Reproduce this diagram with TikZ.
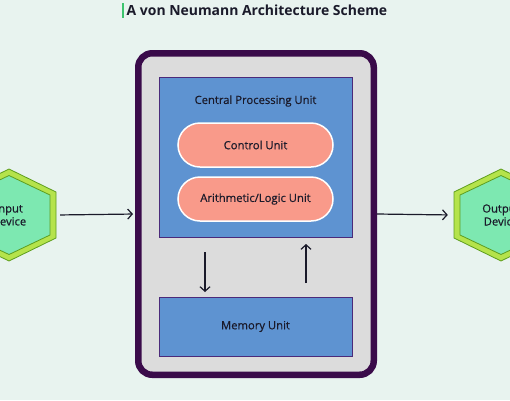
\documentclass[tikz,border=0pt]{standalone}
\usepackage{fontspec}
\setmainfont{Open Sans}
\newfontfamily\medfont{Open Sans}[FakeBold=0.5]
\usetikzlibrary{shapes.misc,arrows.meta}
\definecolor{bgc}{HTML}{E8F3EF}
\definecolor{purpleD}{HTML}{3A0B4A}
\definecolor{grayF}{HTML}{DCDCDC}
\definecolor{blueF}{HTML}{5E93D1}
\definecolor{blueB}{HTML}{4B2A7A}
\definecolor{salmon}{HTML}{F99A8A}
\definecolor{hexOut}{HTML}{B5E34B}
\definecolor{hexLine}{HTML}{5E9E1E}
\definecolor{hexIn}{HTML}{7DE8B1}
\definecolor{txt}{HTML}{1A1A2A}
\definecolor{barG}{HTML}{3CC46E}
\tikzset{
  sysbox/.style={draw=purpleD, line width=6.5bp, fill=grayF, rounded corners=14bp,
    minimum width=235.5bp, minimum height=321.5bp, inner sep=0pt},
  unitbox/.style={draw=blueB, line width=0.8bp, fill=blueF, minimum width=193bp, inner sep=0pt},
  pill/.style={rounded rectangle, draw=white, line width=1.5bp, fill=salmon,
    minimum width=155bp, minimum height=44bp, inner sep=0pt, font=\medfont\fontsize{11.3}{13}\selectfont, text=txt},
  lbl/.style={font=\medfont\fontsize{11.3}{13}\selectfont, text=txt},
  hexnode/.style={minimum width=94bp, minimum height=92bp, inner sep=0pt,
    align=center, font=\medfont\fontsize{11.3}{13}\selectfont, text=txt},
  arr/.style={-{Straight Barb[length=4.5bp,width=10bp]}, line width=1.2bp, draw=txt},
}
\newcommand\myhex[2]{% center x, center y
  \fill[hexOut, draw=hexLine, line width=0.8bp] (#1,#2-46) -- (#1+47,#2-23) -- (#1+47,#2+23) -- (#1,#2+46) -- (#1-47,#2+23) -- (#1-47,#2-23) -- cycle;
  \fill[hexIn, draw=hexLine, line width=0.8bp] (#1,#2-39.5) -- (#1+41,#2-20) -- (#1+41,#2+20) -- (#1,#2+39.5) -- (#1-41,#2+20) -- (#1-41,#2-20) -- cycle;
}
\begin{document}
\begin{tikzpicture}[x=1bp,y=-1bp]
\useasboundingbox (0,0) rectangle (510,400);
\clip (0,0) rectangle (510,400);
\fill[bgc] (0,0) rectangle (510,400);
% title
\fill[barG] (121.5,3) rectangle (123.5,17.5);
\node[anchor=west, inner sep=0pt, font=\fontsize{14}{16}\selectfont\bfseries, text=txt] (title) at (126.5,10.5) {A von Neumann Architecture Scheme};
% system box
\node[sysbox] (sys) at (256,214) {};
\node[unitbox, minimum height=160bp] (cpu) at (255.5,157) {};
\node[lbl] (cpulbl) at (255.5,101) {Central Processing Unit};
\node[pill] (cu) at (255.5,145) {Control Unit};
\node[pill] (alu) at (255.5,199) {Arithmetic/Logic Unit};
\node[unitbox, minimum height=59bp, lbl] (mem) at (255.5,326.5) {Memory Unit};
% vertical arrows
\coordinate (d1) at (205,252);
\coordinate (d2) at (205,292);
\coordinate (u1) at (306,283);
\coordinate (u2) at (306,244);
\draw[arr] (d1) -- (d2);
\draw[arr] (u1) -- (u2);
% hexagons
\myhex{9}{215}
\node[hexnode] (in) at (9,215) {Input\\Device};
\myhex{501}{215}
\node[hexnode] (out) at (501,215) {Output\\Device};
\draw[arr, shorten <=4bp, shorten >=2bp] (in.east) -- (sys.west);
\draw[arr, shorten >=6bp] (sys.east) -- (out.west);
\end{tikzpicture}
\end{document}
